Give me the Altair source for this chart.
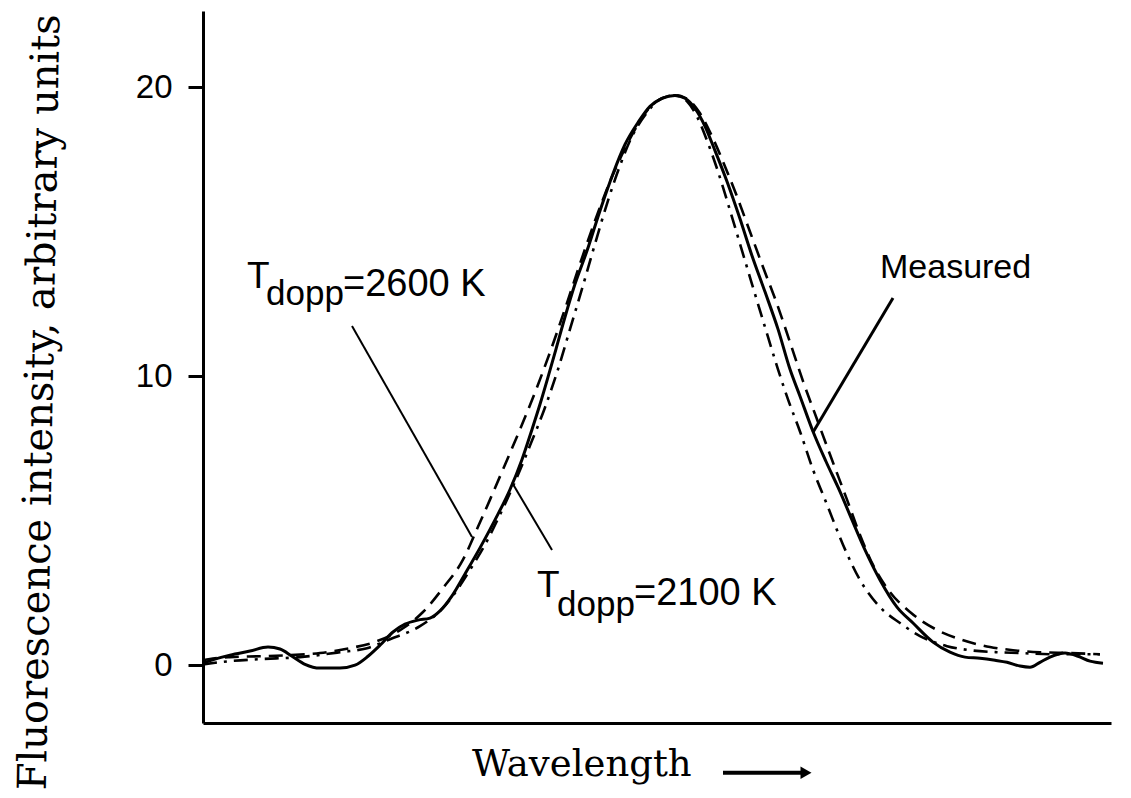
import altair as alt
import pandas as pd

# Wavelength in arbitrary units (0..908), intensity in arbitrary units
meas_x = [0, 12, 27, 47, 65, 77, 89, 102, 117, 137, 152, 165, 177, 190, 202, 215, 227, 237, 249, 262,
          277, 292, 307, 319, 329, 337, 345, 353, 362, 372, 384, 397, 410, 422, 435, 447, 459, 472,
          482, 492, 502, 512, 524, 537, 549, 562, 575, 587, 597, 610, 623, 637, 649, 662, 677, 694,
          710, 730, 747, 762, 777, 792, 804, 817, 827, 837, 847, 862, 875, 887, 900]
meas_y = [0.07, 0.21, 0.35, 0.49, 0.63, 0.56, 0.31, 0.03, -0.10, -0.10, 0.00, 0.31, 0.69, 1.15, 1.42,
          1.56, 1.63, 1.88, 2.40, 3.16, 4.06, 5.03, 6.08, 7.12, 8.16, 9.03, 9.97, 10.94, 12.05, 13.19,
          14.34, 15.73, 17.01, 18.02, 18.78, 19.34, 19.62, 19.72, 19.62, 19.27, 18.65, 17.81, 16.74,
          15.45, 14.17, 12.92, 11.63, 10.24, 9.31, 8.09, 7.05, 6.01, 5.03, 3.99, 2.95, 2.01, 1.46,
          0.80, 0.45, 0.28, 0.24, 0.17, 0.10, -0.03, -0.07, 0.10, 0.28, 0.42, 0.31, 0.14, 0.07]

t2600_x = [0, 12, 27, 57, 87, 117, 147, 174, 200, 220, 240, 260, 275, 287, 302, 317, 332, 347, 362,
           377, 392, 407, 422, 435, 447, 459, 472, 485, 497, 510, 522, 534, 547, 560, 574, 587, 600,
           614, 627, 644, 657, 670, 687, 707, 734, 757, 787, 810, 837, 867, 897]
t2600_y = [0.17, 0.24, 0.28, 0.31, 0.35, 0.42, 0.59, 0.83, 1.28, 1.84, 2.67, 3.65, 4.79, 5.73, 6.94,
           8.16, 9.44, 10.83, 12.33, 13.89, 15.38, 16.74, 17.88, 18.72, 19.31, 19.62, 19.72, 19.58,
           19.10, 18.23, 17.26, 16.22, 15.00, 13.78, 12.50, 11.18, 9.83, 8.51, 7.29, 5.73, 4.51, 3.47,
           2.53, 1.84, 1.22, 0.90, 0.63, 0.52, 0.45, 0.42, 0.38]

t2100_x = [0, 27, 57, 97, 137, 164, 187, 217, 240, 254, 267, 282, 297, 312, 327, 342, 355, 367, 379,
           392, 405, 417, 429, 442, 457, 472, 484, 494, 504, 514, 525, 537, 549, 562, 575, 585, 597,
           610, 624, 640, 657, 677, 697, 717, 744, 767, 794, 817, 847, 877, 897]
t2100_y = [0.03, 0.14, 0.21, 0.28, 0.45, 0.59, 0.90, 1.35, 1.98, 2.60, 3.30, 4.17, 5.21, 6.35, 7.60,
           8.92, 10.24, 11.63, 13.02, 14.58, 16.08, 17.29, 18.30, 19.03, 19.58, 19.72, 19.51, 18.99,
           18.16, 17.19, 15.97, 14.58, 13.19, 11.70, 10.24, 9.20, 8.09, 6.77, 5.56, 4.17, 2.95, 2.01,
           1.46, 1.01, 0.66, 0.52, 0.45, 0.42, 0.38, 0.38, 0.38]

y_ticks = [0, 10, 20]

# annotation labels
label_text = ["T", "dopp", "=2600 K", "T", "dopp", "=2100 K", "Measured"]
label_x = [44, 63, 140, 334, 354, 431, 677]
label_y = [13.05, 12.45, 12.78, 2.35, 1.70, 2.08, 13.40]
label_size = [37, 35, 38, 37, 35, 38, 34]

# pointer lines (x, y pairs per pointer)
ptr_id = ["a", "a", "b", "b", "c", "c"]
ptr_x = [149, 269, 349, 309, 690, 610]
ptr_y = [11.74, 4.44, 3.99, 6.32, 12.71, 8.06]
ptr_w = [2, 2, 2, 2, 3, 3]

xscale = alt.Scale(domain=[0, 908], nice=False, zero=False)
yscale = alt.Scale(domain=[-2.0, 22.64], nice=False, zero=False)

x_axis = alt.Axis(title=None, labels=False, ticks=False, grid=False,
                  domainWidth=3, domainColor="black")
y_axis = alt.Axis(values=y_ticks, title="Fluorescence intensity, arbitrary units",
                  titleFont="DejaVu Serif", titleFontSize=40, titleFontWeight="normal",
                  titleColor="black", titleAngle=271, titleX=-151, titleY=391,
                  titleAlign="center", titleBaseline="alphabetic",
                  labelFont="Liberation Sans", labelFontSize=33, labelColor="black",
                  labelPadding=16, tickSize=15, tickWidth=3, tickColor="black",
                  domainWidth=3, domainColor="black", grid=False)

X = alt.X("x:Q", scale=xscale, axis=x_axis)
Y = alt.Y("y:Q", scale=yscale, axis=y_axis)

meas = pd.DataFrame({"x": meas_x, "y": meas_y})
d2600 = pd.DataFrame({"x": t2600_x, "y": t2600_y})
d2100 = pd.DataFrame({"x": t2100_x, "y": t2100_y})

base_meas = alt.Chart(meas).mark_line(color="black", strokeWidth=3, interpolate="monotone").encode(
    x=X, y=Y)
line2600 = alt.Chart(d2600).mark_line(color="black", strokeWidth=2.6, strokeDash=[14, 8],
                                      interpolate="monotone").encode(x=X, y=Y)
line2100 = alt.Chart(d2100).mark_line(color="black", strokeWidth=2.6, strokeDash=[14, 7, 3, 7],
                                      interpolate="monotone").encode(x=X, y=Y)

ptr = pd.DataFrame({"id": ptr_id, "x": ptr_x, "y": ptr_y, "w": ptr_w})
pointers = alt.Chart(ptr).mark_line(color="black").encode(
    x=X, y=Y,
    detail="id:N",
    strokeWidth=alt.StrokeWidth("w:Q", scale=None, legend=None),
)

labels = pd.DataFrame({"t": label_text, "x": label_x, "y": label_y, "s": label_size})
texts = alt.Chart(labels).mark_text(align="left", baseline="alphabetic", font="Liberation Sans",
                                    color="black").encode(
    x=X, y=Y,
    text="t:N",
    size=alt.Size("s:Q", scale=None, legend=None),
)

# x-axis title with arrow, placed below the axis
xt = pd.DataFrame({"t": ["Wavelength"], "x": [269], "y": [-3.82]})
xtitle = alt.Chart(xt).mark_text(align="left", baseline="alphabetic", font="DejaVu Serif",
                                 fontSize=37, color="black").encode(x=X, y=Y, text="t:N")
arr = pd.DataFrame({"x": [520], "x2": [600], "y": [-3.72]})
arrow_shaft = alt.Chart(arr).mark_rule(color="black", strokeWidth=4).encode(
    x=X, x2="x2:Q", y=Y)
arrow_head = alt.Chart(pd.DataFrame({"x": [603], "y": [-3.72]})).mark_point(
    shape="triangle-right", filled=True, color="black", size=160, opacity=1).encode(x=X, y=Y)

chart = alt.layer(base_meas, line2600, line2100, pointers, texts, xtitle, arrow_shaft, arrow_head).properties(
    width=908, height=712,
    autosize=alt.AutoSizeParams(type="none"),
    padding={"left": 203, "top": 11, "right": 20, "bottom": 75},
    background="white",
).configure_view(stroke=None)

chart.save("out.html", embed_options={"renderer": "svg", "actions": False})
